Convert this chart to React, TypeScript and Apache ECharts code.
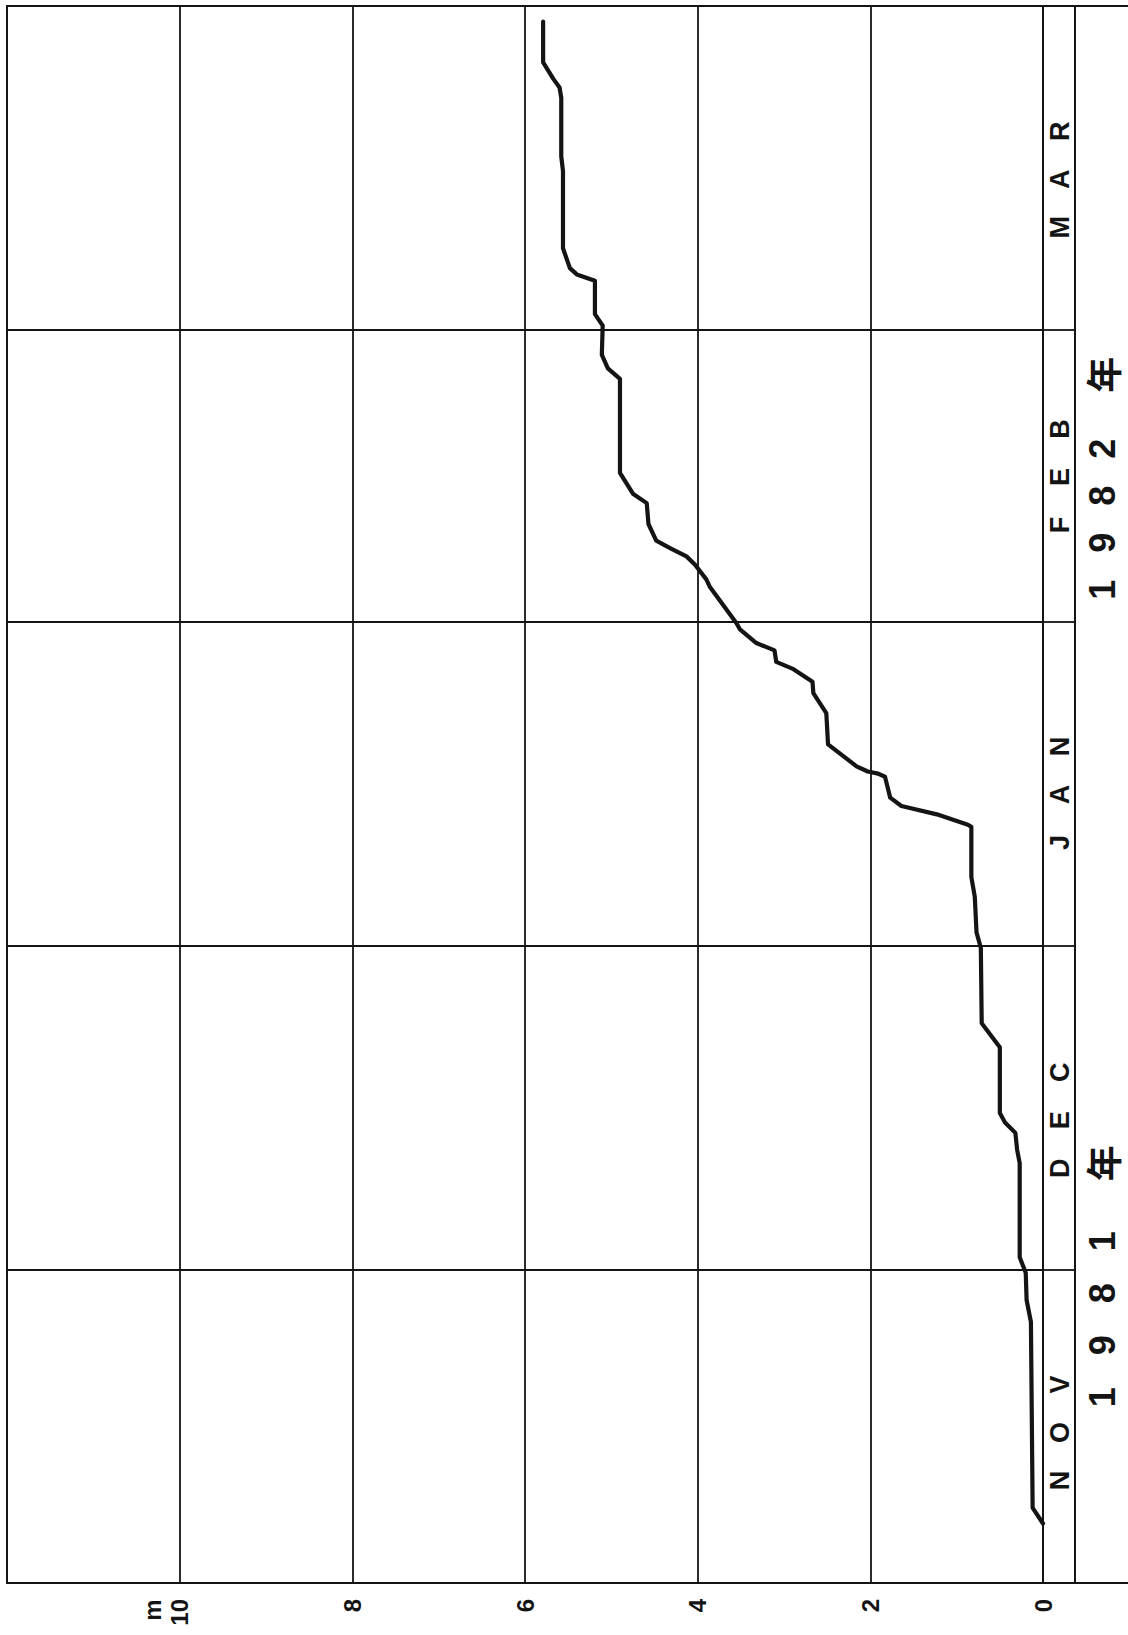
import React, { useEffect, useRef } from 'react';
import * as echarts from 'echarts';

// Days elapsed since 1 Nov 1981 and the depth reached (m)
const dayOffsets = [
  5.7, 7.2, 25.0, 27.1, 29.7, 31.2, 40.2, 41.5, 43.1, 44.1, 45.0, 51.3, 53.6, 60.8, 62.3, 65.7,
  67.6, 72.4, 72.6, 73.6, 74.4, 75.2, 77.2, 77.5, 77.7, 78.2, 80.3, 83.3, 85.2, 86.3, 87.5, 88.2,
  89.3, 90.0, 91.3, 91.9, 95.4, 96.1, 97.5, 98.3, 99.1, 99.8, 101.4, 103.4, 104.3, 106.3, 115.3,
  116.3, 117.6, 120.4, 121.5, 124.7, 125.3, 125.9, 127.8, 135.2, 136.6, 142.2, 143.2, 144.0, 145.6,
  149.5,
];
const depths = [
  0.0, 0.12, 0.14, 0.19, 0.2, 0.27, 0.27, 0.3, 0.32, 0.44, 0.5, 0.5, 0.71, 0.72, 0.77, 0.79,
  0.83, 0.83, 0.87, 1.23, 1.64, 1.77, 1.83, 1.91, 2.03, 2.16, 2.49, 2.51, 2.66, 2.67, 2.89, 3.09,
  3.11, 3.32, 3.51, 3.55, 3.86, 3.9, 4.03, 4.13, 4.32, 4.48, 4.57, 4.59, 4.75, 4.9, 4.9,
  5.04, 5.11, 5.1, 5.19, 5.19, 5.4, 5.48, 5.56, 5.56, 5.58, 5.58, 5.6, 5.67, 5.79,
  5.79,
];

const totalDays = 151; // 1 Nov 1981 -> 1 Apr 1982
const monthStartDays = [30, 61, 92, 120];
const monthNames = ['NOV', 'DEC', 'JAN', 'FEB', 'MAR'];
const monthLabelDays = [14.4, 44.3, 75.5, 105.9, 134.4];
const yearLabels = ['1981年', '1982年'];
const yearLabelDays = [29.0, 105.4];
const depthMin = 0;
const depthMax = 12;
const depthStep = 2;
const depthLastLabel = 10;
const depthUnit = 'm';

const INK = '#141414';
const SANS = 'Arial';
const CJK = 'Noto Sans CJK JP';

// character pitch (px) of the letter-spaced labels
const MONTH_PITCH = 48;
const YEAR_PITCH = [52, 47];
const YEAR_KANJI_GAP = [78, 74];

export default function App() {
  const ref = useRef<HTMLDivElement | null>(null);

  useEffect(() => {
    document.body.style.margin = '0';
    if (!ref.current) return;
    const chart = echarts.init(ref.current, undefined, { renderer: 'svg' });

    const gridCommon = {
      top: 6,
      bottom: 52,
      show: true,
      borderColor: INK,
      borderWidth: 1.8,
      backgroundColor: 'transparent',
      containLabel: false,
      outerBoundsMode: 'none',
    };

    const monthLine = {
      silent: true,
      symbol: ['none', 'none'],
      label: { show: false },
      lineStyle: { color: INK, width: 1.8, type: 'solid' },
      emphasis: { disabled: true },
      animation: false,
      data: monthStartDays.map((d) => ({ yAxis: d })),
    };

    const option: any = {
      animation: false,
      backgroundColor: '#ffffff',
      grid: [
        { ...gridCommon, left: 7, right: 85 },
        { ...gridCommon, left: 1043, right: 53 },
        { ...gridCommon, left: 1075, right: -20 },
      ],
      xAxis: [
        {
          gridIndex: 0,
          type: 'value',
          inverse: true,
          min: depthMin,
          max: depthMax,
          interval: depthStep,
          axisLine: { show: false },
          axisTick: { show: false },
          splitLine: { show: true, lineStyle: { color: INK, width: 1.8 } },
          axisLabel: {
            rotate: 90,
            margin: 16,
            fontSize: 24,
            fontWeight: 'bold',
            color: INK,
            fontFamily: SANS,
            formatter: (v: number) => (v > depthLastLabel ? '' : String(v)),
          },
        },
        { gridIndex: 1, type: 'value', min: 0, max: 1, show: false },
        { gridIndex: 2, type: 'value', min: 0, max: 1, show: false },
      ],
      yAxis: [0, 1, 2].map((g) => ({
        gridIndex: g,
        type: 'value',
        min: 0,
        max: totalDays,
        show: false,
        splitLine: { show: false },
      })),
      series: [
        {
          type: 'line',
          xAxisIndex: 0,
          yAxisIndex: 0,
          data: depths.map((v, i) => [v, dayOffsets[i]]),
          showSymbol: false,
          symbol: 'none',
          smooth: false,
          lineStyle: { color: INK, width: 4.2, cap: 'round', join: 'round' },
          markLine: monthLine,
          z: 5,
        },
        {
          type: 'scatter',
          xAxisIndex: 1,
          yAxisIndex: 1,
          symbolSize: 1,
          silent: true,
          itemStyle: { color: 'transparent' },
          data: monthLabelDays.map((d) => [0.5, d]),
          markLine: monthLine,
        },
      ],
    };

    chart.setOption(option);

    const textStyle = (ch: string, size: number, family: string) => ({
      text: ch,
      fontSize: size,
      fontWeight: 'bold',
      fontFamily: family,
      fill: INK,
      textAlign: 'center',
      verticalAlign: 'middle',
      textVerticalAlign: 'middle',
    });

    const graphics: any[] = [];
    monthNames.forEach((name, i) => {
      const [cx, cy] = chart.convertToPixel({ gridIndex: 1 }, [0.5, monthLabelDays[i]]) as number[];
      const chars = name.split('');
      chars.forEach((ch, j) => {
        const off = (j - (chars.length - 1) / 2) * MONTH_PITCH;
        graphics.push({
          type: 'text',
          x: cx + 1,
          y: cy - off,
          rotation: Math.PI / 2,
          silent: true,
          style: textStyle(ch, 27, SANS),
        });
      });
    });

    yearLabels.forEach((label, i) => {
      const [cx, cy] = chart.convertToPixel({ gridIndex: 2 }, [0.37, yearLabelDays[i]]) as number[];
      const chars = Array.from(label);
      const offs: number[] = [];
      let acc = 0;
      chars.forEach((ch, j) => {
        if (j > 0) acc += /[0-9]/.test(ch) ? YEAR_PITCH[i] : YEAR_KANJI_GAP[i];
        offs.push(acc);
      });
      const mid = (offs[0] + offs[offs.length - 1]) / 2;
      chars.forEach((ch, j) => {
        graphics.push({
          type: 'text',
          x: cx,
          y: cy - (offs[j] - mid),
          rotation: Math.PI / 2,
          silent: true,
          style: textStyle(ch, 36, /[0-9]/.test(ch) ? SANS : CJK),
        });
      });
    });

    graphics.push({
      type: 'text',
      x: 152,
      y: 1610,
      rotation: Math.PI / 2,
      silent: true,
      style: textStyle(depthUnit, 24, SANS),
    });

    chart.setOption({ graphic: graphics });

    return () => {
      chart.dispose();
    };
  }, []);

  return <div ref={ref} style={{ width: 1128, height: 1635 }} />;
}
